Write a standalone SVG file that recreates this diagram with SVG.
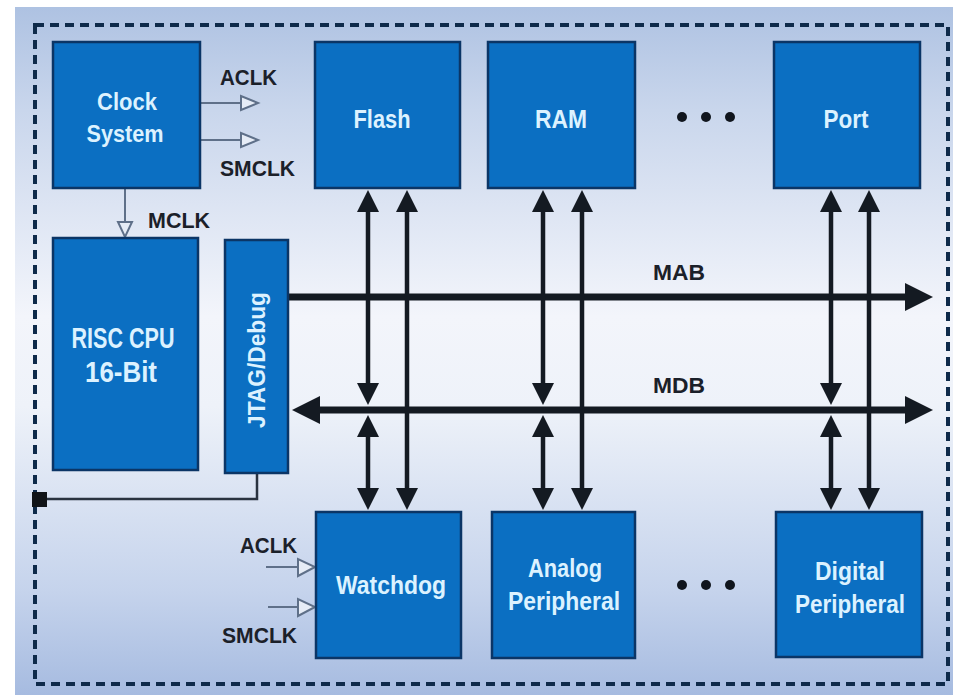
<svg xmlns="http://www.w3.org/2000/svg" width="953" height="695" viewBox="0 0 953 695">
  <defs>
    <linearGradient id="bg" x1="0" y1="0" x2="0" y2="1">
      <stop offset="0" stop-color="#aec2e2"/>
      <stop offset="0.15" stop-color="#c9d6ec"/>
      <stop offset="0.45" stop-color="#f3f5fb"/>
      <stop offset="0.58" stop-color="#eef2f9"/>
      <stop offset="0.85" stop-color="#c5d3ec"/>
      <stop offset="1" stop-color="#a6bbe0"/>
    </linearGradient>
    <marker id="ah" markerUnits="userSpaceOnUse" viewBox="0 0 22 22" refX="12" refY="11" markerWidth="22" markerHeight="22" orient="auto-start-reverse">
      <path d="M0,0 L22,11 L0,22 z" fill="#141a22"/>
    </marker>
    <marker id="bh" markerUnits="userSpaceOnUse" viewBox="0 0 28 28" refX="18" refY="14" markerWidth="28" markerHeight="28" orient="auto-start-reverse">
      <path d="M0,0 L28,14 L0,28 z" fill="#141a22"/>
    </marker>
  </defs>
  <style>
    .box { fill: #0b6fc2; stroke: #0b3566; stroke-width: 2.5; }
    .nt { font-family: "Liberation Sans", Arial, sans-serif; font-weight: bold; fill: #dcf2ff; text-anchor: middle; }
    .lb { font-family: "Liberation Sans", Arial, sans-serif; font-weight: bold; fill: #1b2029; font-size: 22px; }
    .bus { stroke: #141a22; stroke-width: 7; fill: none; }
    .vb { stroke: #141a22; stroke-width: 4.5; fill: none; }
    .clk { stroke: #5f7089; stroke-width: 2; fill: none; }
    .tri { stroke: #5f7089; stroke-width: 2; fill: #e6ecf6; }
    .dot { fill: #10151d; }
  </style>

  <rect x="0" y="0" width="953" height="695" fill="#ffffff"/>
  <rect x="15" y="7" width="938" height="688" fill="url(#bg)"/>
  <rect x="35" y="25" width="913" height="659" fill="none" stroke="#0e2a4a" stroke-width="4" stroke-dasharray="9 6"/>

  <g id="connectors">
    <!-- clock outputs -->
    <line class="clk" x1="200" y1="103" x2="241" y2="103"/>
    <polygon class="tri" points="241,96 241,110 258,103"/>
    <line class="clk" x1="200" y1="140" x2="241" y2="140"/>
    <polygon class="tri" points="241,133 241,147 258,140"/>
    <line class="clk" x1="125" y1="188" x2="125" y2="222"/>
    <polygon class="tri" points="118,222 132,222 125,237"/>
    <!-- watchdog clock inputs -->
    <line class="clk" x1="266" y1="567" x2="298" y2="567"/>
    <polygon class="tri" points="298,559 298,576 315,567"/>
    <line class="clk" x1="268" y1="607" x2="298" y2="607"/>
    <polygon class="tri" points="298,599 298,616 315,607"/>
    <!-- JTAG link -->
    <polyline points="257,473 257,499 47,499" fill="none" stroke="#2a3340" stroke-width="2.5"/>
    <rect x="32" y="492" width="15" height="15" fill="#111418"/>
    <!-- buses -->
    <line class="bus" x1="288" y1="297" x2="923" y2="297" marker-end="url(#bh)"/>
    <line class="bus" x1="302" y1="410" x2="923" y2="410" marker-start="url(#bh)" marker-end="url(#bh)"/>
    <!-- vertical links -->
    <line class="vb" x1="368" y1="200" x2="368" y2="395" marker-start="url(#ah)" marker-end="url(#ah)"/>
    <line class="vb" x1="368" y1="425" x2="368" y2="500" marker-start="url(#ah)" marker-end="url(#ah)"/>
    <line class="vb" x1="407" y1="200" x2="407" y2="500" marker-start="url(#ah)" marker-end="url(#ah)"/>
    <line class="vb" x1="543" y1="200" x2="543" y2="395" marker-start="url(#ah)" marker-end="url(#ah)"/>
    <line class="vb" x1="543" y1="425" x2="543" y2="500" marker-start="url(#ah)" marker-end="url(#ah)"/>
    <line class="vb" x1="582" y1="200" x2="582" y2="500" marker-start="url(#ah)" marker-end="url(#ah)"/>
    <line class="vb" x1="831" y1="200" x2="831" y2="395" marker-start="url(#ah)" marker-end="url(#ah)"/>
    <line class="vb" x1="831" y1="425" x2="831" y2="500" marker-start="url(#ah)" marker-end="url(#ah)"/>
    <line class="vb" x1="869" y1="200" x2="869" y2="500" marker-start="url(#ah)" marker-end="url(#ah)"/>
  </g>

  <g id="labels">
    <text class="lb" x="220" y="85" textLength="57" lengthAdjust="spacingAndGlyphs">ACLK</text>
    <text class="lb" x="220" y="176" textLength="75" lengthAdjust="spacingAndGlyphs">SMCLK</text>
    <text class="lb" x="148" y="228" textLength="62" lengthAdjust="spacingAndGlyphs">MCLK</text>
    <text class="lb" x="240" y="553" textLength="57" lengthAdjust="spacingAndGlyphs">ACLK</text>
    <text class="lb" x="222" y="643" textLength="75" lengthAdjust="spacingAndGlyphs">SMCLK</text>
    <text class="lb" x="653" y="280" textLength="52" lengthAdjust="spacingAndGlyphs">MAB</text>
    <text class="lb" x="653" y="393" textLength="52" lengthAdjust="spacingAndGlyphs">MDB</text>
  </g>

  <g id="clock-system">
    <rect class="box" x="53" y="42" width="147" height="146"/>
    <text class="nt" x="127" y="110" font-size="24" textLength="60" lengthAdjust="spacingAndGlyphs">Clock</text>
    <text class="nt" x="125" y="142" font-size="24" textLength="77" lengthAdjust="spacingAndGlyphs">System</text>
  </g>
  <g id="risc-cpu">
    <rect class="box" x="53" y="238" width="145" height="232"/>
    <text class="nt" x="123" y="348" font-size="29" textLength="103" lengthAdjust="spacingAndGlyphs">RISC CPU</text>
    <text class="nt" x="121" y="382" font-size="29" textLength="72" lengthAdjust="spacingAndGlyphs">16-Bit</text>
  </g>
  <g id="jtag-debug">
    <rect class="box" x="225" y="240" width="63" height="233"/>
    <text class="nt" transform="translate(265,360) rotate(-90)" x="0" y="0" font-size="24" textLength="136" lengthAdjust="spacingAndGlyphs">JTAG/Debug</text>
  </g>
  <g id="flash">
    <rect class="box" x="315" y="42" width="145" height="146"/>
    <text class="nt" x="382" y="128" font-size="25" textLength="57" lengthAdjust="spacingAndGlyphs">Flash</text>
  </g>
  <g id="ram">
    <rect class="box" x="488" y="42" width="147" height="146"/>
    <text class="nt" x="561" y="128" font-size="25" textLength="52" lengthAdjust="spacingAndGlyphs">RAM</text>
  </g>
  <g id="port">
    <rect class="box" x="774" y="42" width="146" height="146"/>
    <text class="nt" x="846" y="128" font-size="25" textLength="45" lengthAdjust="spacingAndGlyphs">Port</text>
  </g>
  <g id="dots-top">
    <circle class="dot" cx="682" cy="117" r="5"/>
    <circle class="dot" cx="706" cy="117" r="5"/>
    <circle class="dot" cx="730" cy="117" r="5"/>
  </g>
  <g id="watchdog">
    <rect class="box" x="316" y="512" width="145" height="146"/>
    <text class="nt" x="391" y="594" font-size="25" textLength="110" lengthAdjust="spacingAndGlyphs">Watchdog</text>
  </g>
  <g id="analog-peripheral">
    <rect class="box" x="492" y="512" width="143" height="146"/>
    <text class="nt" x="565" y="577" font-size="25" textLength="74" lengthAdjust="spacingAndGlyphs">Analog</text>
    <text class="nt" x="564" y="610" font-size="25" textLength="112" lengthAdjust="spacingAndGlyphs">Peripheral</text>
  </g>
  <g id="dots-bottom">
    <circle class="dot" cx="682" cy="585" r="5"/>
    <circle class="dot" cx="706" cy="585" r="5"/>
    <circle class="dot" cx="730" cy="585" r="5"/>
  </g>
  <g id="digital-peripheral">
    <rect class="box" x="776" y="512" width="146" height="145"/>
    <text class="nt" x="850" y="580" font-size="25" textLength="70" lengthAdjust="spacingAndGlyphs">Digital</text>
    <text class="nt" x="850" y="613" font-size="25" textLength="110" lengthAdjust="spacingAndGlyphs">Peripheral</text>
  </g>
</svg>
